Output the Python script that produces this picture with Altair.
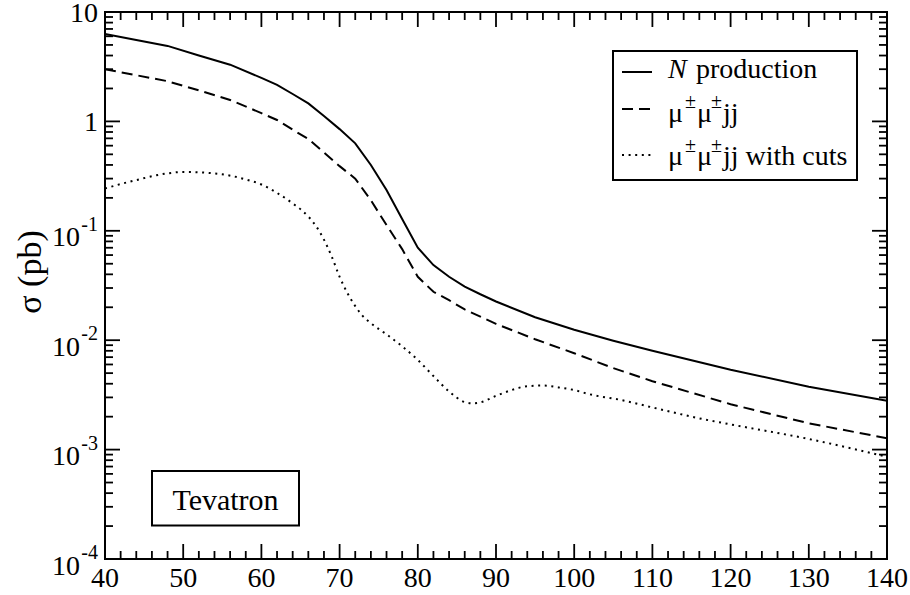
import altair as alt
import pandas as pd

# Heavy neutrino mass (GeV) and cross sections (pb)
mass_n = [40, 44, 48, 52, 56, 60, 62, 64, 66, 68, 70, 72, 74, 76, 78, 80, 82, 84,
          86, 88, 90, 95, 100, 105, 110, 120, 130, 140]
sigma_n = [6.3, 5.55, 4.9, 4.0, 3.3, 2.5, 2.16, 1.78, 1.46, 1.12, 0.85, 0.63, 0.40,
           0.236, 0.128, 0.070, 0.0486, 0.038, 0.0309, 0.0263, 0.0226, 0.0162,
           0.01245, 0.0099, 0.0080, 0.00537, 0.00376, 0.0028]

mass_mm = [40, 48, 52, 56, 60, 62, 64, 66, 68, 70, 72, 74, 76, 78, 80, 82, 84, 86,
           90, 95, 100, 105, 110, 120, 130, 140]
sigma_mm = [3.0, 2.33, 1.92, 1.57, 1.19, 1.03, 0.84, 0.69, 0.52, 0.39, 0.30, 0.19,
            0.113, 0.068, 0.038, 0.0277, 0.0232, 0.0191, 0.0141, 0.0102, 0.0076,
            0.00556, 0.00422, 0.0026, 0.00174, 0.00127]

mass_cut = [40, 44, 48, 50, 54, 58, 60, 62, 64, 66, 67, 68, 69, 70, 71, 72, 73, 74,
            76, 78, 80, 82, 84, 86, 87, 88, 90, 92, 94, 96, 98, 100, 102, 106, 110,
            116, 120, 130, 140]
sigma_cut = [0.244, 0.291, 0.335, 0.345, 0.335, 0.295, 0.265, 0.222, 0.178, 0.135,
             0.110, 0.083, 0.058, 0.038, 0.027, 0.0205, 0.0165, 0.0143, 0.0113,
             0.0088, 0.0066, 0.0047, 0.0034, 0.00272, 0.00265, 0.0027, 0.0031,
             0.0035, 0.0038, 0.00385, 0.0037, 0.0035, 0.0032, 0.00284, 0.00243,
             0.00193, 0.0017, 0.00125, 0.00086]

x_major = list(range(40, 141, 10))
x_minor = [v for v in range(42, 140, 2) if v % 10]
y_major = [1e-4, 1e-3, 1e-2, 1e-1, 1, 10]
y_minor = [m * 10.0 ** e for e in range(-4, 1) for m in range(2, 10)]
y_exp_labels = ["-4", "-3", "-2", "-1"]

W, H = 782, 547
FONT = "Liberation Serif, Times New Roman, serif"
INK = "black"

xs = alt.Scale(domain=[40, 140], nice=False, zero=False)
ys = alt.Scale(type="log", domain=[1e-4, 10], nice=False)


def X(field):
    return alt.X(field, type="quantitative", scale=xs, axis=None)


def Y(field):
    return alt.Y(field, type="quantitative", scale=ys, axis=None)


def curve(m, s, interp, dash=None):
    kw = dict(color=INK, strokeWidth=2, interpolate=interp, clip=True)
    if dash:
        kw["strokeDash"] = dash
    df = pd.DataFrame({"m": m, "sigma": s})
    return alt.Chart(df).mark_line(**kw).encode(x=X("m"), y=Y("sigma"))


def x_ticks(vals, length):
    df = pd.DataFrame({"v": vals})
    base = alt.Chart(df).mark_rule(color=INK, strokeWidth=1.8)
    return (base.encode(x=X("v"), y=alt.value(H), y2=alt.value(H - length))
            + base.encode(x=X("v"), y=alt.value(0), y2=alt.value(length)))


def y_ticks(vals, length):
    df = pd.DataFrame({"v": vals})
    base = alt.Chart(df).mark_rule(color=INK, strokeWidth=1.8)
    return (base.encode(y=Y("v"), x=alt.value(0), x2=alt.value(length))
            + base.encode(y=Y("v"), x=alt.value(W), x2=alt.value(W - length)))


def note(text, x, y, size=28, align="left", angle=None, style="normal"):
    kw = dict(font=FONT, fontSize=size, align=align, baseline="alphabetic",
              color=INK, fontStyle=style)
    if angle is not None:
        kw["angle"] = angle
        kw["baseline"] = "middle"
    return alt.Chart(pd.DataFrame({"t": [text]})).mark_text(**kw).encode(
        x=alt.value(x), y=alt.value(y), text="t:N")


def box(x0, x1, y0, y1):
    return alt.Chart(pd.DataFrame({"k": [0]})).mark_rect(
        fill="white", stroke=INK, strokeWidth=2).encode(
        x=alt.value(x0), x2=alt.value(x1), y=alt.value(y0), y2=alt.value(y1))


def legend_line(y, dash=None):
    kw = dict(color=INK, strokeWidth=2)
    if dash:
        kw["strokeDash"] = dash
    return alt.Chart(pd.DataFrame({"k": [0]})).mark_rule(**kw).encode(
        x=alt.value(517), x2=alt.value(547), y=alt.value(y))


DASH = [11, 6]
DOT = [2, 4.6]

lines = (curve(mass_n, sigma_n, "linear")
         + curve(mass_mm, sigma_mm, "linear", DASH)
         + curve(mass_cut, sigma_cut, "monotone", DOT))

ticks = x_ticks(x_major, 15) + x_ticks(x_minor, 8) + y_ticks(y_major, 15) + y_ticks(y_minor, 8)

# tick labels
x_lab = alt.Chart(pd.DataFrame({"v": x_major, "t": [str(v) for v in x_major]})).mark_text(
    font=FONT, fontSize=28, align="center", baseline="alphabetic", color=INK
).encode(x=X("v"), y=alt.value(575), text="t:N")

y_plain = alt.Chart(pd.DataFrame({"v": [1, 10], "t": ["1", "10"]})).mark_text(
    font=FONT, fontSize=28, align="right", baseline="alphabetic", color=INK, dy=9.5
).encode(y=Y("v"), x=alt.value(-7), text="t:N")

exp_df = pd.DataFrame({"v": y_major[:4], "base": ["10"] * 4, "e": y_exp_labels})
y_base = alt.Chart(exp_df).mark_text(
    font=FONT, fontSize=28, align="right", baseline="alphabetic", color=INK, dy=15.5
).encode(y=Y("v"), x=alt.value(-25), text="base:N")
y_exp = alt.Chart(exp_df).mark_text(
    font=FONT, fontSize=20, align="right", baseline="alphabetic", color=INK, dy=0
).encode(y=Y("v"), x=alt.value(-7), text="e:N")

y_title = note("σ (pb)", -74, 260, size=34, align="center", angle=270)

# legend
legend = (box(508, 752, 39, 168)
          + legend_line(60)
          + legend_line(97, DASH)
          + legend_line(143, DOT)
          + note("N", 563, 66, style="italic")
          + note("production", 591, 66)
          + note("μ", 563, 109.5) + note("±", 580, 96, size=20)
          + note("μ", 592, 109.5) + note("±", 606, 96, size=20)
          + note("jj", 618, 109.5)
          + note("μ", 563, 153) + note("±", 580, 139.5, size=20)
          + note("μ", 592, 153) + note("±", 606, 139.5, size=20)
          + note("jj with cuts", 618, 153))

tevatron = box(47, 194, 459, 513.5) + note("Tevatron", 120.5, 498, size=30, align="center")

chart = alt.layer(
    lines, ticks, x_lab, y_plain, y_base, y_exp, y_title, legend, tevatron
).properties(
    width=W, height=H,
    autosize=alt.AutoSizeParams(type="none"),
    padding={"left": 105, "top": 12, "right": 23, "bottom": 36},
    background="white",
).configure_view(stroke=INK, strokeWidth=2)

chart.save("out.html", embed_options={"renderer": "svg", "actions": False})
